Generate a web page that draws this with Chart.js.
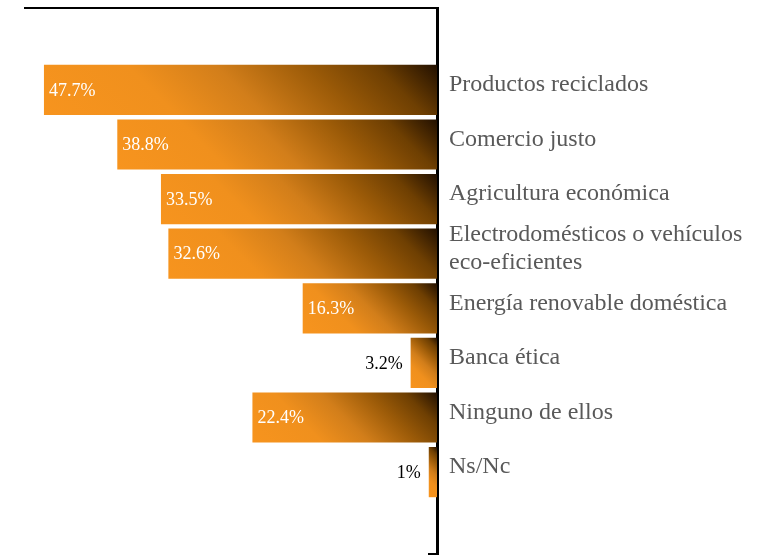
<!DOCTYPE html>
<html>
<head>
<meta charset="utf-8">
<script src="https://cdn.jsdelivr.net/npm/chart.js@4.4.1/dist/chart.umd.min.js"></script>
<style>
  html, body { margin: 0; padding: 0; background: #ffffff; }
  #wrap { width: 760px; height: 557px; position: relative; }
</style>
</head>
<body>
<div id="wrap"><canvas id="chart"></canvas></div>
<script>
// Empty slots at both ends leave a free band above the first bar and below the last
const categories = [
  '',
  'Productos reciclados',
  'Comercio justo',
  'Agricultura económica',
  ['Electrodomésticos o vehículos', 'eco-eficientes'],
  'Energía renovable doméstica',
  'Banca ética',
  'Ninguno de ellos',
  'Ns/Nc',
  ''
];
const values = [null, 47.7, 38.8, 33.5, 32.6, 16.3, 3.2, 22.4, 1, null];
const axisMin = 0;
const axisMax = 50;

const SERIF = "'Liberation Serif', 'Times New Roman', serif";

// Diagonal orange-to-dark-brown fill, rebuilt for every bar from its own box
const gradientBars = {
  id: 'gradientBars',
  afterDatasetsUpdate(chart) {
    const ctx = chart.ctx;
    const meta = chart.getDatasetMeta(0);
    meta.data.forEach((el, i) => {
      if (values[i] == null) return;
      const p = el.getProps(['x', 'y', 'base', 'height'], true);
      const left = Math.min(p.x, p.base);
      const right = Math.max(p.x, p.base);
      const w = right - left;
      const h = p.height;
      const bottom = p.y + h / 2;
      const d = (w + h) / 2;
      const g = ctx.createLinearGradient(left, bottom, left + d, bottom - d);
      g.addColorStop(0, '#F7941E');
      g.addColorStop(0.3, '#F0901D');
      g.addColorStop(0.5, '#D27E1A');
      g.addColorStop(0.7, '#9C5B08');
      g.addColorStop(0.86, '#6E3F02');
      g.addColorStop(1, '#221000');
      el.options = Object.assign({}, el.options, { backgroundColor: g });
    });
  }
};

// Percent labels: inside the bar in white, or just left of short bars in black
const valueLabels = {
  id: 'valueLabels',
  afterDatasetsDraw(chart) {
    const ctx = chart.ctx;
    const meta = chart.getDatasetMeta(0);
    ctx.save();
    ctx.font = '18px ' + SERIF;
    ctx.textBaseline = 'middle';
    meta.data.forEach((el, i) => {
      const v = values[i];
      if (v == null) return;
      const p = el.getProps(['x', 'y', 'base'], true);
      const left = Math.min(p.x, p.base);
      const right = Math.max(p.x, p.base);
      const text = v + '%';
      const tw = ctx.measureText(text).width;
      if (right - left >= tw + 10) {
        ctx.fillStyle = '#ffffff';
        ctx.textAlign = 'left';
        ctx.fillText(text, left + 5, p.y + 1);
      } else {
        ctx.fillStyle = '#000000';
        ctx.textAlign = 'right';
        ctx.fillText(text, left - 8, p.y + 1);
      }
    });
    ctx.restore();
  }
};

// Short closing tick at the foot of the vertical axis
const axisFoot = {
  id: 'axisFoot',
  afterDraw(chart) {
    const { ctx, chartArea } = chart;
    ctx.save();
    ctx.strokeStyle = '#000000';
    ctx.lineWidth = 2;
    ctx.beginPath();
    ctx.moveTo(chartArea.right - 9, chartArea.bottom);
    ctx.lineTo(chartArea.right + 1, chartArea.bottom);
    ctx.stroke();
    ctx.restore();
  }
};

new Chart(document.getElementById('chart'), {
  type: 'bar',
  data: {
    labels: categories,
    datasets: [{
      data: values,
      backgroundColor: '#F7941E',
      borderWidth: 0,
      categoryPercentage: 0.92,
      barPercentage: 1
    }]
  },
  plugins: [gradientBars, valueLabels, axisFoot],
  options: {
    indexAxis: 'y',
    responsive: true,
    maintainAspectRatio: false,
    animation: false,
    layout: { autoPadding: false, padding: { left: 25, top: 8, right: 0, bottom: 3 } },
    plugins: {
      legend: { display: false },
      tooltip: { enabled: false }
    },
    scales: {
      x: {
        position: 'top',
        reverse: true,
        min: axisMin,
        max: axisMax,
        z: 1,
        grid: { display: false, drawTicks: false },
        border: { display: true, color: '#000000', width: 2 },
        ticks: { display: false },
        afterFit(scale) {
          scale.height = 0;
          scale.paddingLeft = 0;
          scale.paddingRight = 0;
        }
      },
      y: {
        position: 'right',
        z: 1,
        grid: { display: false, drawTicks: false },
        border: { display: true, color: '#000000', width: 3 },
        ticks: {
          color: '#595959',
          font: { family: SERIF, size: 24 },
          padding: 12,
          labelOffset: -5,
          autoSkip: false
        },
        afterFit(scale) {
          scale.width = 323;
          scale.paddingTop = 0;
          scale.paddingBottom = 0;
        }
      }
    }
  }
});
</script>
</body>
</html>
